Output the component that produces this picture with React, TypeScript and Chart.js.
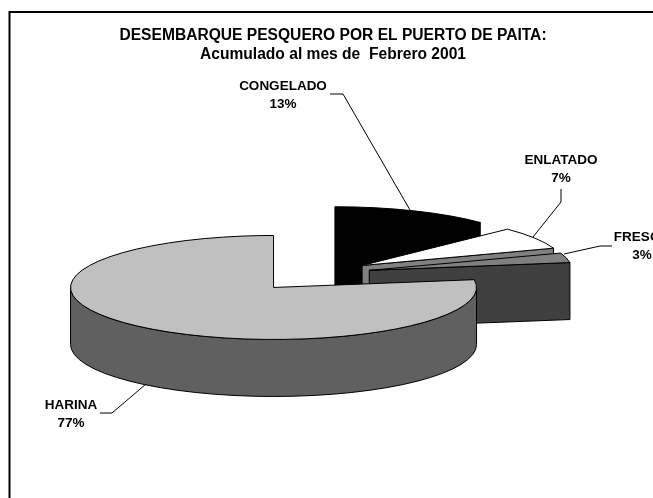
import React, { useEffect, useRef } from "react";
import { Chart, registerables } from "chart.js";

Chart.register(...registerables);

const categories = ["CONGELADO", "ENLATADO", "FRESCO", "HARINA"];
const shares = [12.7, 6.9, 3.0, 77.4];
const topColors = ["#000000", "#ffffff", "#808080", "#c0c0c0"];
const sideColors = ["#000000", "#808080", "#404040", "#606060"];
const titleLines = ["DESEMBARQUE PESQUERO POR EL PUERTO DE PAITA:", "Acumulado al mes de  Febrero 2001"];

// label text centres, [x, y of first line]
const labelCentres = [[283, 86], [561, 160], [642, 237], [71, 405]];
const leaderLines = [
  [[330, 94], [343, 94], [410, 210]],
  [[561, 189], [561, 202], [533, 237]],
  [[612, 246], [600, 246], [564, 254]],
  [[100, 413], [112, 413], [146, 384]],
];

const FONT = 'bold 13.5px "Liberation Sans", Arial, sans-serif';
const CX = 312;
const CY = 274.5;
const SQUASH = 52 / 203;
const OFFSET_SQUASH = 0.29;
const DEPTH = 57;

const pie3d = {
  id: "pie3d",
  beforeDraw(chart: any) {
    const { ctx, width, height } = chart;
    ctx.save();
    ctx.fillStyle = "#ffffff";
    ctx.fillRect(0, 0, width, height);
    ctx.strokeStyle = "#000000";
    ctx.lineWidth = 2;
    ctx.beginPath();
    ctx.moveTo(9.5, height);
    ctx.lineTo(9.5, 12);
    ctx.lineTo(width, 12);
    ctx.stroke();
    ctx.restore();
  },
  beforeDatasetDraw() {
    return false;
  },
  afterDatasetsDraw(chart: any) {
    const { ctx } = chart;
    const arcs = chart.getDatasetMeta(0).data;
    ctx.save();
    ctx.lineWidth = 1;
    ctx.lineJoin = "round";
    ctx.strokeStyle = "#000000";
    arcs.forEach((arc: any, i: number) => {
      const r = arc.outerRadius;
      const ry = r * SQUASH;
      const a0 = arc.startAngle;
      const a1 = arc.endAngle;
      const mid = (a0 + a1) / 2;
      const off = arc.options.offset;
      const x = CX + Math.cos(mid) * off;
      const y = CY + Math.sin(mid) * off * OFFSET_SQUASH;
      const px = (t: number) => x + Math.cos(t) * r;
      const py = (t: number) => y + Math.sin(t) * ry;
      ctx.fillStyle = sideColors[i];

      const radial = (t: number) => {
        ctx.beginPath();
        ctx.moveTo(x, y);
        ctx.lineTo(px(t), py(t));
        ctx.lineTo(px(t), py(t) + DEPTH);
        ctx.lineTo(x, y + DEPTH);
        ctx.closePath();
        ctx.fill();
        ctx.stroke();
      };
      if (Math.cos(a0) < 0) radial(a0);
      if (Math.cos(a1) > 0) radial(a1);

      // visible part of the rim: canvas angles 0..PI (or a wrap of them)
      for (const k of [0, 2]) {
        const s = Math.max(a0, k * Math.PI);
        const e = Math.min(a1, (k + 1) * Math.PI);
        if (e > s) {
          ctx.beginPath();
          ctx.ellipse(x, y, r, ry, 0, s, e);
          ctx.ellipse(x, y + DEPTH, r, ry, 0, e, s, true);
          ctx.closePath();
          ctx.fill();
          ctx.stroke();
        }
      }

      ctx.fillStyle = topColors[i];
      ctx.beginPath();
      ctx.moveTo(x, y);
      ctx.ellipse(x, y, r, ry, 0, a0, a1);
      ctx.closePath();
      ctx.fill();
      ctx.stroke();
    });

    // leader lines
    ctx.beginPath();
    leaderLines.forEach((pts) => {
      pts.forEach(([lx, ly], n) => (n ? ctx.lineTo(lx, ly) : ctx.moveTo(lx, ly)));
    });
    ctx.stroke();

    // labels
    ctx.fillStyle = "#000000";
    ctx.font = FONT;
    ctx.textAlign = "center";
    ctx.textBaseline = "middle";
    categories.forEach((name, i) => {
      const [lx, ly] = labelCentres[i];
      ctx.fillText(name, lx, ly);
      ctx.fillText(`${Math.round(shares[i])}%`, lx, ly + 18);
    });
    ctx.restore();
  },
};

export default function App() {
  const ref = useRef<HTMLCanvasElement | null>(null);
  useEffect(() => {
    if (!ref.current) return;
    const chart = new Chart(ref.current, {
      type: "pie",
      data: {
        labels: categories,
        datasets: [
          {
            data: shares,
            backgroundColor: topColors,
            borderColor: "#000000",
            borderWidth: 1,
            offset: 59,
            radius: 203,
          } as any,
        ],
      },
      options: {
        responsive: false,
        animation: false,
        layout: { padding: { top: 26.5, left: 13, right: 0, bottom: 0 } },
        plugins: {
          legend: { display: false },
          tooltip: { enabled: false },
          title: {
            display: true,
            fullSize: false,
            text: titleLines,
            color: "#000000",
            padding: 0,
            font: { family: '"Liberation Sans", Arial, sans-serif', size: 15.6, weight: "bold", lineHeight: 1.22 },
          },
        },
      } as any,
      plugins: [pie3d],
    });
    return () => chart.destroy();
  }, []);
  return (
    <canvas
      ref={ref}
      width={653}
      height={498}
      style={{ position: "fixed", left: 0, top: 0, width: 653, height: 498, display: "block" }}
    />
  );
}
